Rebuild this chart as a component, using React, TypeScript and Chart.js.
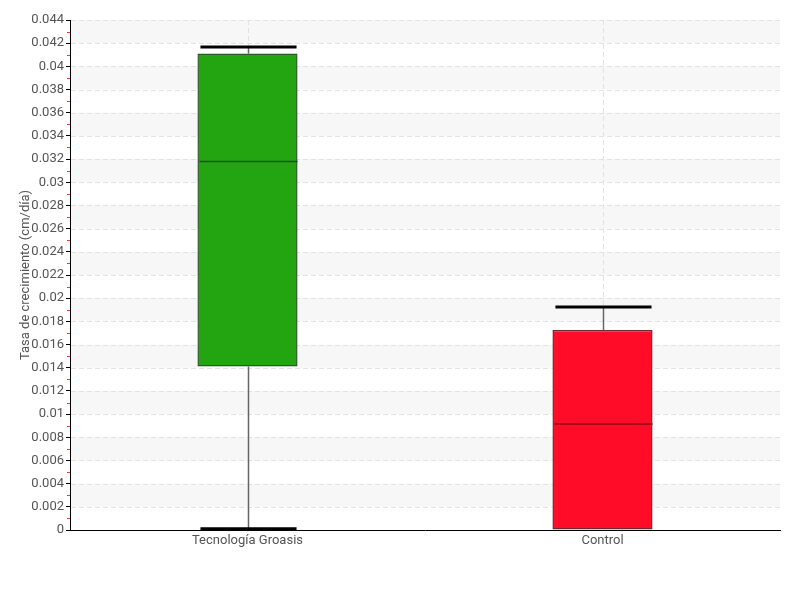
import React, { useEffect, useRef } from "react";
import { Chart, registerables } from "chart.js";

Chart.register(...registerables);

const categories = ["Tecnología Groasis", "Control"];
const whiskerLow = [0.0001, 0.0];
const q1 = [0.0141, 0.0];
const median = [0.0318, 0.00915];
const q3 = [0.0411, 0.01726];
const whiskerHigh = [0.04167, 0.01924];
const boxColors = ["#22a511", "#ff0c28"];
const boxBorders = ["#2d5a28", "#6e2a2e"];
const medianColors = ["#165a10", "#8a0a18"];
const yTicksMax = 0.044;
const yStep = 0.002;

const FONT_OPTS = { family: "Roboto, 'Liberation Sans', sans-serif", size: 13 };

const boxPlugin = {
  id: "boxExtras",
  beforeDraw(chart: any) {
    const { ctx, chartArea, scales } = chart;
    const y = scales.y;
    const x = scales.x;
    ctx.save();
    ctx.fillStyle = "#f7f7f7";
    for (let v = yStep; v < yTicksMax - 1e-9; v += 2 * yStep) {
      const top = y.getPixelForValue(v + yStep);
      const bot = y.getPixelForValue(v);
      ctx.fillRect(chartArea.left, top, chartArea.right - chartArea.left, bot - top);
    }
    ctx.strokeStyle = "#e2e2e2";
    ctx.lineWidth = 1;
    ctx.setLineDash([5, 3]);
    ctx.beginPath();
    for (let v = yStep; v <= yTicksMax + 1e-9; v += yStep) {
      const py = Math.round(y.getPixelForValue(v)) + 0.5;
      ctx.moveTo(chartArea.left + 1, py);
      ctx.lineTo(chartArea.right, py);
    }
    categories.forEach((_, i) => {
      const px = Math.round(x.getPixelForValue(i)) + 0.5;
      ctx.moveTo(px, chartArea.top);
      ctx.lineTo(px, chartArea.bottom);
    });
    ctx.stroke();
    ctx.restore();
  },
  afterDatasetsDraw(chart: any) {
    const { ctx, scales } = chart;
    const x = scales.x;
    const y = scales.y;
    const meta = chart.getDatasetMeta(0);
    ctx.save();
    categories.forEach((_, i) => {
      const bar: any = meta.data[i];
      const cx = Math.round(x.getPixelForValue(i)) + 0.5;
      const half = bar.width / 2;
      ctx.strokeStyle = "#666";
      ctx.lineWidth = 1.5;
      ctx.beginPath();
      ctx.moveTo(cx, y.getPixelForValue(q3[i]));
      ctx.lineTo(cx, y.getPixelForValue(whiskerHigh[i]));
      ctx.moveTo(cx, y.getPixelForValue(q1[i]));
      ctx.lineTo(cx, y.getPixelForValue(whiskerLow[i]));
      ctx.stroke();
      ctx.strokeStyle = "#000";
      ctx.lineWidth = 3;
      ctx.beginPath();
      ctx.moveTo(cx - half + 2, y.getPixelForValue(whiskerHigh[i]));
      ctx.lineTo(cx + half - 2, y.getPixelForValue(whiskerHigh[i]));
      if (whiskerLow[i] < q1[i]) {
        ctx.moveTo(cx - half + 2, y.getPixelForValue(whiskerLow[i]));
        ctx.lineTo(cx + half - 2, y.getPixelForValue(whiskerLow[i]));
      }
      ctx.stroke();
      ctx.strokeStyle = medianColors[i];
      ctx.lineWidth = 1.5;
      ctx.beginPath();
      ctx.moveTo(cx - half + 1, y.getPixelForValue(median[i]));
      ctx.lineTo(cx + half - 1, y.getPixelForValue(median[i]));
      ctx.stroke();
    });
    ctx.strokeStyle = "#ff3030";
    ctx.lineWidth = 1;
    ctx.beginPath();
    for (let v = yStep / 2; v < yTicksMax; v += yStep) {
      const py = Math.round(y.getPixelForValue(v)) + 0.5;
      ctx.moveTo(y.right - 3, py);
      ctx.lineTo(y.right, py);
    }
    ctx.stroke();
    ctx.restore();
  },
};

export default function App() {
  const ref = useRef<HTMLCanvasElement>(null);
  useEffect(() => {
    if (!ref.current) return;
    const chart = new Chart(ref.current, {
      type: "bar",
      data: {
        labels: categories,
        datasets: [
          {
            data: categories.map((_, i) => [q1[i], q3[i]]) as any,
            backgroundColor: boxColors,
            borderColor: boxBorders,
            borderWidth: 1.5,
            borderSkipped: false,
            barPercentage: 0.282,
            categoryPercentage: 1,
          },
        ],
      },
      options: {
        animation: false,
        responsive: false,
        layout: { padding: { top: 20, right: 20, left: 0, bottom: 0 } },
        plugins: { legend: { display: false }, tooltip: { enabled: false } },
        scales: {
          x: {
            type: "category",
            grid: { offset: false, drawOnChartArea: false, drawTicks: false } as any,
            border: { color: "#000", width: 1 } as any,
            ticks: { color: "#555", font: FONT_OPTS, padding: 3 },
            afterFit: (s: any) => {
              s.height = 70;
            },
          },
          y: {
            min: 0,
            max: yTicksMax,
            grid: {
              drawOnChartArea: false,
              tickColor: "#000",
              tickLength: 4,
              tickBorderDash: [],
            } as any,
            border: { color: "#000", width: 1 } as any,
            ticks: {
              stepSize: yStep,
              color: "#555",
              font: FONT_OPTS,
              padding: 2,
              callback: (v: any) => String(+Number(v).toFixed(3)),
            },
            title: {
              display: true,
              text: "Tasa de crecimiento (cm/día)",
              color: "#555",
              font: FONT_OPTS,
              padding: { top: 18, bottom: 0 },
            },
            afterFit: (s: any) => {
              s.width = 70;
            },
          },
        },
      },
      plugins: [boxPlugin],
    });
    return () => chart.destroy();
  }, []);
  return (
    <div style={{ position: "fixed", left: 0, top: 0, width: 800, height: 600, background: "#fff" }}>
      <canvas ref={ref} width={800} height={600} style={{ width: 800, height: 600 }} />
    </div>
  );
}
